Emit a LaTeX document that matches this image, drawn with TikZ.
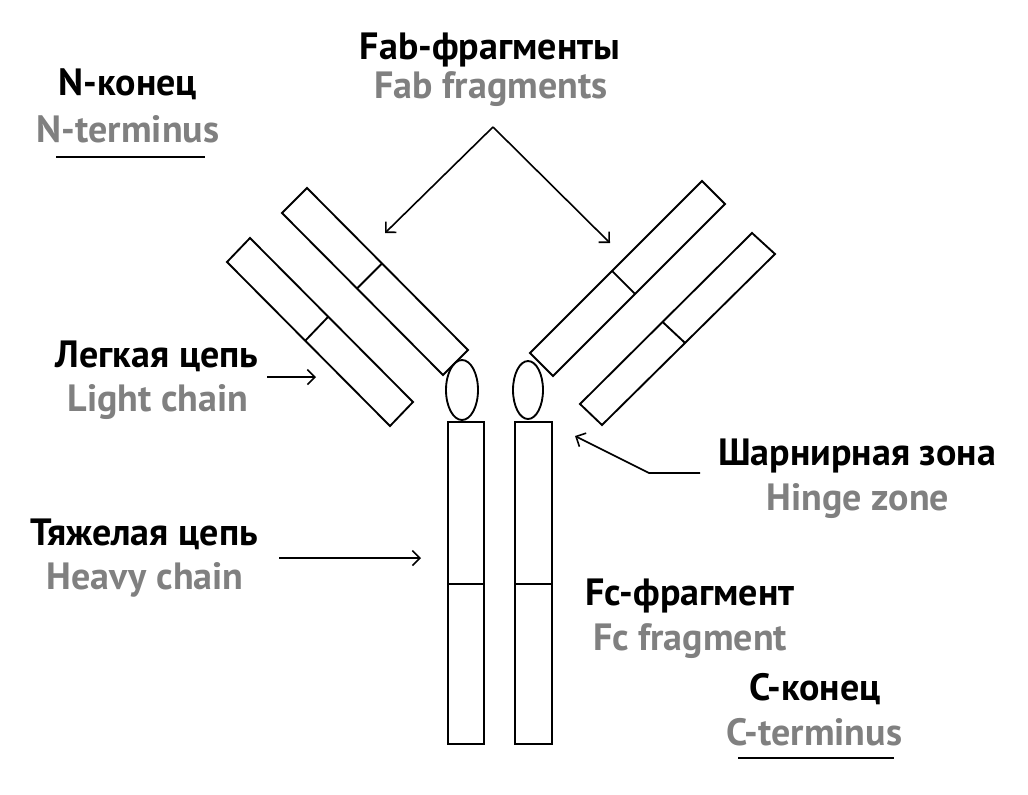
\documentclass[tikz,border=0pt]{standalone}
\usepackage{fontspec}
\setmainfont{PT Sans}
\usetikzlibrary{arrows.meta,calc}
\definecolor{labgray}{RGB}{128,128,128}
\tikzset{
  part/.style={draw=black, line width=1.4pt, line join=miter},
  pointer/.style={draw=black, line width=1.2pt, -{Straight Barb[angle=90:8pt, line width=1.2pt]}},
  ru/.style={font=\fontsize{28.5pt}{32pt}\selectfont\bfseries, text=black, inner sep=0pt, anchor=base, yshift=-1.5pt},
  en/.style={font=\fontsize{28.5pt}{32pt}\selectfont\bfseries, text=labgray, inner sep=0pt, anchor=base, yshift=-1.5pt},
  rulebar/.style={draw=black, line width=1.6pt}
}
\begin{document}
\begin{tikzpicture}[x=0.75pt, y=-0.75pt]
\useasboundingbox (0,0) rectangle (1028,794);
% ---- left Fab arm: heavy chain part
\draw[part] (282,213) -- (307,188) -- (468,350) -- (443,375) -- cycle;
\draw[part] ($(282,213)!0.466!(443,375)$) -- ($(307,188)!0.466!(468,350)$);
% ---- left Fab arm: light chain
\draw[part] (227,262) -- (250,238) -- (413,402) -- (390,426) -- cycle;
\draw[part] ($(227,262)!0.48!(390,426)$) -- ($(250,238)!0.48!(413,402)$);
% ---- right Fab arm: heavy chain part
\draw[part] (530,353) -- (702,181) -- (725,204) -- (553,376) -- cycle;
\draw[part] ($(530,353)!0.477!(702,181)$) -- ($(553,376)!0.477!(725,204)$);
% ---- right Fab arm: light chain
\draw[part] (580,404) -- (752,233) -- (775,254) -- (602,425) -- cycle;
\draw[part] ($(580,404)!0.48!(752,233)$) -- ($(602,425)!0.48!(775,254)$);
% ---- hinge ellipses
\draw[part] (462,390) ellipse [x radius=16, y radius=30];
\draw[part] (528,390) ellipse [x radius=15, y radius=29];
% ---- Fc heavy chains
\draw[part] (448,422) rectangle (484,744);
\draw[part] (448,584) -- (484,584);
\draw[part] (515,422) rectangle (552,744);
\draw[part] (515,584) -- (552,584);

% ---- labels
\node[ru] (fabru) at (490,57) {Fab-фрагменты};
\node[en] (faben) at (491,96) {Fab fragments};
\node[ru] (nru) at (128,93) {N-конец};
\node[en] (nen) at (128,140) {N-terminus};
\node[ru] (lru) at (157,365) {Легкая цепь};
\node[en] (len) at (158,409) {Light chain};
\node[ru] (hru) at (144,543) {Тяжелая цепь};
\node[en] (hen) at (145,587) {Heavy chain};
\node[ru] (hgru) at (857,463) {Шарнирная зона};
\node[en] (hgen) at (858,508) {Hinge zone};
\node[ru] (fcru) at (690,603) {Fc-фрагмент};
\node[en] (fcen) at (690,648) {Fc fragment};
\node[ru] (cru) at (815,698) {C-конец};
\node[en] (cen) at (814,743) {C-terminus};

% ---- underlines
\coordinate (nl1) at (56,157); \coordinate (nl2) at (205,157);
\draw[rulebar] (nl1) -- (nl2);
\coordinate (cl1) at (738,758); \coordinate (cl2) at (894,758);
\draw[rulebar] (cl1) -- (cl2);

% ---- pointers
\coordinate (apex) at (493,127);
\coordinate (fabL) at (385,233);
\coordinate (fabR) at (610,243);
\draw[pointer] (apex) -- (fabL);
\draw[pointer] (apex) -- (fabR);
\coordinate (lcs) at (267,377); \coordinate (lce) at (316,377);
\draw[pointer] (lcs) -- (lce);
\coordinate (hcs) at (279,558); \coordinate (hce) at (421,558);
\draw[pointer] (hcs) -- (hce);
\coordinate (hgs) at (700,473); \coordinate (hgk) at (649,473); \coordinate (hge) at (575,436);
\draw[pointer] (hgs) -- (hgk) -- (hge);
\end{tikzpicture}
\end{document}
